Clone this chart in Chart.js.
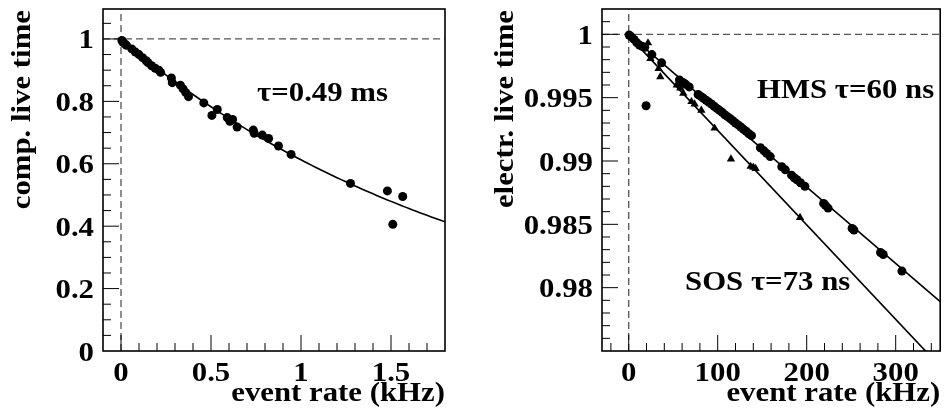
<!DOCTYPE html>
<html>
<head>
<meta charset="utf-8">
<script src="https://cdn.jsdelivr.net/npm/chart.js@4/dist/chart.umd.min.js"></script>
<style>
  html, body { margin: 0; padding: 0; background: #fff; }
  #wrap { position: relative; width: 945px; height: 419px; overflow: hidden; }
  canvas { position: absolute; top: 0; }
  #left { left: 0; }
  #right { left: 472px; }
</style>
</head>
<body>
<div id="wrap">
  <canvas id="left" width="472" height="419"></canvas>
  <canvas id="right" width="473" height="419"></canvas>
</div>
<script>
// ---- computer live time vs. event rate (kHz) ----
const leftRate = [0.005, 0.01, 0.02, 0.03, 0.06, 0.08, 0.10, 0.12, 0.14, 0.15, 0.17, 0.19, 0.21, 0.22,
                  0.28, 0.285, 0.33, 0.345, 0.36, 0.375, 0.46, 0.505, 0.535, 0.59, 0.605, 0.62, 0.645,
                  0.735, 0.74, 0.785, 0.82, 0.875, 0.945, 1.275, 1.48, 1.51, 1.565];
const leftLive = [0.995, 0.99, 0.985, 0.98, 0.968, 0.958, 0.95, 0.94, 0.93, 0.924, 0.914, 0.906, 0.90, 0.893,
                  0.875, 0.86, 0.852, 0.84, 0.828, 0.815, 0.795, 0.755, 0.774, 0.748, 0.736, 0.742, 0.718,
                  0.708, 0.698, 0.692, 0.681, 0.657, 0.630, 0.537, 0.513, 0.406, 0.495];
const compTauMs = 0.49;            // fitted computer dead time (ms)
const leftXTicks = [0, 0.5, 1, 1.5];
const leftYTicks = [0, 0.2, 0.4, 0.6, 0.8, 1];

// ---- electronic live time vs. event rate (kHz) ----
const hmsRate = [0.5, 3, 6, 9, 12, 15, 18, 19.5, 26, 37, 57, 61, 64, 68, 78, 81, 84, 87, 90, 93, 96, 99,
                 102, 105, 108, 111, 114, 117, 120, 123, 126, 129, 132, 135, 138, 148, 152, 155, 159,
                 172, 176, 183, 186, 189, 193, 198, 219, 221, 224, 251, 253, 283, 286, 307];
const hmsLive = [0.99995, 0.99980, 0.99960, 0.99935, 0.99915, 0.99905, 0.99898, 0.99436, 0.99840, 0.99775,
                 0.99640, 0.99620, 0.99605, 0.99585, 0.99525, 0.99510, 0.99495, 0.99480, 0.99465, 0.99450,
                 0.99432, 0.99415, 0.99400, 0.99385, 0.99365, 0.99350, 0.99335, 0.99318, 0.99300, 0.99285,
                 0.99268, 0.99250, 0.99235, 0.99215, 0.99200, 0.99105, 0.99080, 0.99060, 0.99035, 0.98955,
                 0.98930, 0.98888, 0.98868, 0.98852, 0.98828, 0.98800, 0.98665, 0.98650, 0.98628, 0.98468,
                 0.98455, 0.98278, 0.98262, 0.98131];
const sosRate = [21.7, 24.4, 33.6, 35.5, 54, 58, 61.3, 70.5, 74, 81.6, 96.5, 114.9, 137, 140, 142.6, 192.5];
const sosLive = [0.99932, 0.99809, 0.99730, 0.99664, 0.99600, 0.99575, 0.99534, 0.99468, 0.99450, 0.99400,
                 0.99259, 0.99015, 0.98957, 0.98950, 0.98940, 0.98553];
// straight-line fits (end points)
const hmsFitRate = [0, 350];
const hmsFitLive = [1.0000, 0.97890];
const sosFitRate = [0, 350];
const sosFitLive = [0.99988, 0.97377];
const rightXTicks = [0, 100, 200, 300];
const rightYTicks = [0.98, 0.985, 0.99, 0.995, 1];

// ---- drawing helpers ----
const FONT_FAMILY = '"Liberation Serif", "Times New Roman", Times, serif';
const FONT_SIZE = 28;
const STRETCH = 1.1;

function drawLabel(ctx, text, x, y, align, vertical) {
  ctx.save();
  ctx.translate(x, y);
  if (vertical) ctx.rotate(-Math.PI / 2);
  ctx.scale(STRETCH, 1);
  ctx.font = 'bold ' + FONT_SIZE + 'px ' + FONT_FAMILY;
  ctx.fillStyle = '#000';
  ctx.textAlign = align;
  ctx.textBaseline = 'alphabetic';
  ctx.fillText(text, 0, 0);
  ctx.restore();
}

function steps(from, to, step) {
  const out = [];
  const n = Math.round((to - from) / step);
  for (let i = 0; i <= n; i++) out.push(+(from + i * step).toFixed(6));
  return out;
}

function pairs(xs, ys) { return xs.map((v, i) => ({ x: v, y: ys[i] })); }

function axesPlugin(cfg) {
  return {
    id: 'rootAxes',
    beforeDatasetsDraw(chart) {
      const { ctx, chartArea: a, scales: { x, y } } = chart;
      const x0 = x.getPixelForValue(0), y1 = y.getPixelForValue(1);
      ctx.save();
      ctx.strokeStyle = '#555';
      ctx.lineWidth = 1.3;
      ctx.setLineDash([7, 4]);
      ctx.beginPath();
      ctx.moveTo(x0, a.bottom); ctx.lineTo(x0, a.top);
      ctx.moveTo(a.left, y1); ctx.lineTo(a.right, y1);
      ctx.stroke();
      ctx.restore();
    },
    afterDatasetsDraw(chart) {
      const { ctx, chartArea: a, scales: { x, y } } = chart;
      ctx.save();
      ctx.strokeStyle = '#000';
      ctx.lineWidth = 1;
      ctx.beginPath();
      cfg.xMinor.forEach(v => {
        const px = x.getPixelForValue(v);
        if (px <= a.left + 1 || px >= a.right - 1) return;
        const major = cfg.xTicks.some(t => Math.abs(t - v) < 1e-9);
        ctx.moveTo(px, a.bottom); ctx.lineTo(px, a.bottom - (major ? 16 : 8));
      });
      cfg.yMinor.forEach(v => {
        const py = y.getPixelForValue(v);
        if (py <= a.top + 1 || py >= a.bottom - 1) return;
        const major = cfg.yTicks.some(t => Math.abs(t - v) < 1e-9);
        ctx.moveTo(a.left, py); ctx.lineTo(a.left + (major ? 16 : 8), py);
      });
      ctx.stroke();
      // frame
      ctx.lineWidth = 1.6;
      ctx.strokeRect(a.left, a.top, a.right - a.left, a.bottom - a.top);
      ctx.restore();

      // tick labels
      cfg.xTicks.forEach(v => drawLabel(ctx, cfg.xFmt(v), x.getPixelForValue(v), a.bottom + 30, 'center'));
      cfg.yTicks.forEach(v => drawLabel(ctx, cfg.yFmt(v), a.left - 9, y.getPixelForValue(v) + 9.5, 'right'));
      // axis titles
      drawLabel(ctx, cfg.xTitle, a.right, a.bottom + 50, 'right');
      drawLabel(ctx, cfg.yTitle, cfg.yTitleX, a.top + 1, 'right', true);
      // fit annotations
      cfg.notes.forEach(n => drawLabel(ctx, n.text, n.x, n.y, 'left'));
    }
  };
}

const fmt = v => String(v);

// fitted curve for the computer live time: exp(-rate * tau)
const compFitRate = steps(0, 1.8, 0.02);
const compFitLive = compFitRate.map(r => Math.exp(-r * compTauMs));

const common = {
  responsive: false,
  devicePixelRatio: 1,
  animation: false,
  plugins: { legend: { display: false }, tooltip: { enabled: false } }
};

new Chart(document.getElementById('left'), {
  type: 'scatter',
  data: {
    datasets: [
      { data: pairs(compFitRate, compFitLive), showLine: true, borderColor: '#000', borderWidth: 1.6,
        pointRadius: 0, fill: false, order: 2 },
      { data: pairs(leftRate, leftLive), pointStyle: 'circle', pointRadius: 4.5,
        backgroundColor: '#000', borderColor: '#000', borderWidth: 0, order: 1 }
    ]
  },
  options: Object.assign({}, common, {
    layout: { padding: { left: 103, right: 27, top: 9, bottom: 68 } },
    scales: {
      x: { type: 'linear', min: -0.1, max: 1.8, display: false },
      y: { type: 'linear', min: 0, max: 1.096, display: false }
    }
  }),
  plugins: [axesPlugin({
    xTicks: leftXTicks, yTicks: leftYTicks,
    xMinor: steps(-0.1, 1.8, 0.1), yMinor: steps(0, 1.05, 0.05),
    xFmt: fmt, yFmt: fmt,
    xTitle: 'event rate (kHz)', yTitle: 'comp. live time', yTitleX: 30,
    notes: [{ text: 'τ=' + compTauMs + ' ms', x: 257, y: 101 }]
  })]
});

new Chart(document.getElementById('right'), {
  type: 'scatter',
  data: {
    datasets: [
      { data: pairs(hmsFitRate, hmsFitLive), showLine: true, borderColor: '#000', borderWidth: 1.6,
        pointRadius: 0, fill: false, order: 3 },
      { data: pairs(sosFitRate, sosFitLive), showLine: true, borderColor: '#000', borderWidth: 1.6,
        pointRadius: 0, fill: false, order: 3 },
      { data: pairs(hmsRate, hmsLive), pointStyle: 'circle', pointRadius: 4.5,
        backgroundColor: '#000', borderColor: '#000', borderWidth: 0, order: 1 },
      { data: pairs(sosRate, sosLive), pointStyle: 'triangle', pointRadius: 4.8,
        backgroundColor: '#000', borderColor: '#000', borderWidth: 0, order: 2 }
    ]
  },
  options: Object.assign({}, common, {
    layout: { padding: { left: 130, right: 1, top: 9, bottom: 68 } },
    scales: {
      x: { type: 'linear', min: -30, max: 350, display: false },
      y: { type: 'linear', min: 0.975, max: 1.002, display: false }
    }
  }),
  plugins: [axesPlugin({
    xTicks: rightXTicks, yTicks: rightYTicks,
    xMinor: steps(-20, 340, 20), yMinor: steps(0.975, 1.002, 0.001),
    xFmt: fmt, yFmt: fmt,
    xTitle: 'event rate (kHz)', yTitle: 'electr. live time', yTitleX: 41,
    notes: [{ text: 'HMS τ=60 ns', x: 285, y: 98 }, { text: 'SOS τ=73 ns', x: 213, y: 290 }]
  })]
});
</script>
</body>
</html>
